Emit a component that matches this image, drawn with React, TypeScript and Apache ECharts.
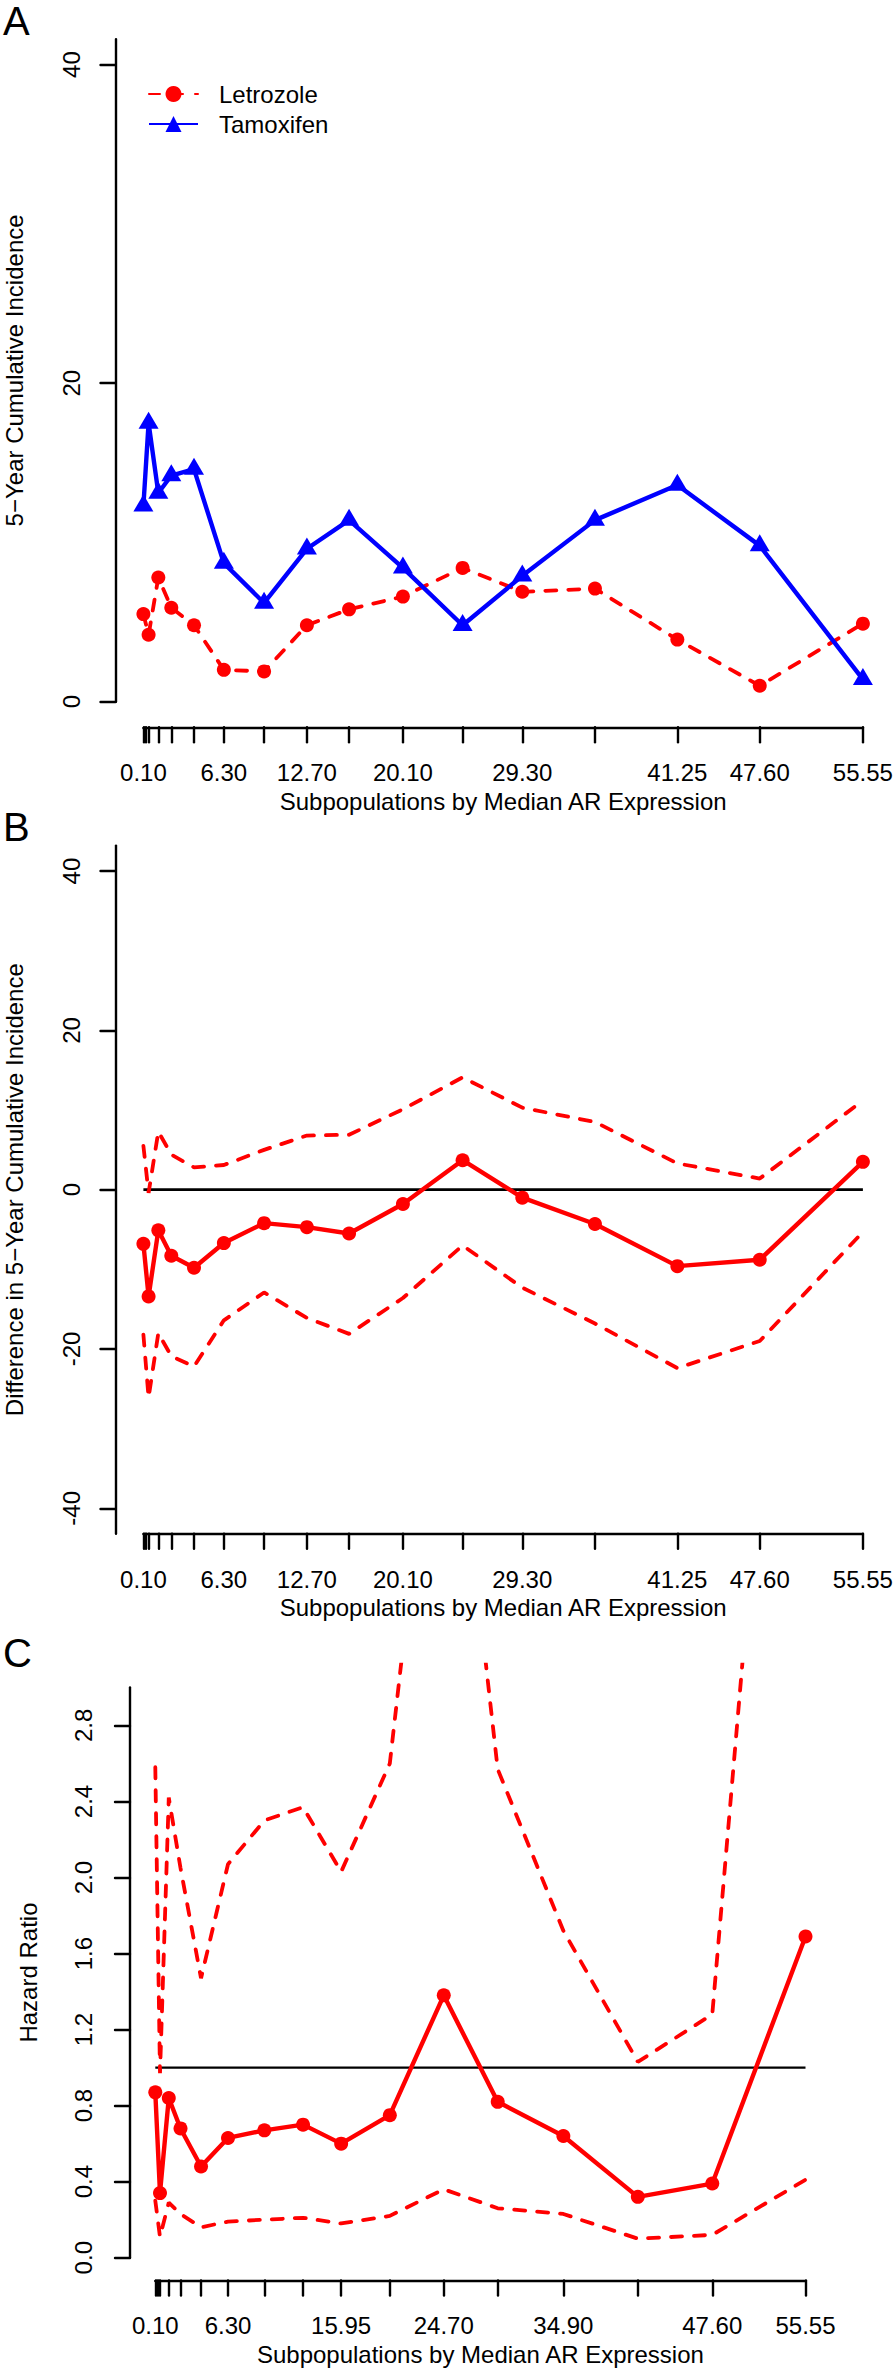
import React, { useEffect, useRef } from "react";
import * as echarts from "echarts";

// Subpopulation medians of AR expression (x positions of the points)
const medians = [0.1, 0.5, 1.25, 2.25, 4.0, 6.3, 9.4, 12.7, 15.95, 20.1, 24.7, 29.3, 34.9, 41.25, 47.6, 55.55];
// Tick marks drawn on the x axes
const subpopTicks = [0.1, 0.3, 0.5, 1.25, 2.25, 4.0, 6.3, 9.4, 12.7, 15.95, 20.1, 24.7, 29.3, 34.9, 41.25, 47.6, 55.55];
// Labelled ticks
const xLabelsAB = [0.1, 6.3, 12.7, 20.1, 29.3, 41.25, 47.6, 55.55];
const xLabelsC = [0.1, 6.3, 15.95, 24.7, 34.9, 47.6, 55.55];

// Panel A: 5-year cumulative incidence
const letrozole = [5.5, 4.2, 7.8, 5.9, 4.8, 2.0, 1.9, 4.8, 5.8, 6.6, 8.4, 6.9, 7.1, 3.9, 1.0, 4.9];
const tamoxifen = [12.3, 17.5, 13.1, 14.2, 14.6, 8.7, 6.2, 9.6, 11.4, 8.4, 4.8, 7.9, 11.4, 13.6, 9.8, 1.4];

// Panel B: difference in 5-year cumulative incidence
const diff = [-6.8, -13.4, -5.1, -8.3, -9.8, -6.7, -4.2, -4.7, -5.5, -1.8, 3.7, -1.0, -4.3, -9.6, -8.8, 3.5];
const diffUpper = [5.5, -0.4, 7.3, 4.4, 2.8, 3.1, 5.0, 6.8, 6.9, 10.1, 14.1, 10.3, 8.5, 3.3, 1.4, 11.2];
const diffLower = [-18.2, -26.1, -18.0, -20.9, -22.2, -16.4, -12.9, -16.1, -18.1, -13.6, -7.0, -12.3, -16.8, -22.4, -19.0, -5.3];

// Panel C: hazard ratio
const hazardRatio = [0.87, 0.34, 0.84, 0.68, 0.48, 0.63, 0.67, 0.7, 0.6, 0.75, 1.38, 0.82, 0.64, 0.32, 0.39, 1.69];
const hrUpper = [2.58, 0.97, 2.42, 2.05, 1.47, 2.07, 2.3, 2.37, 2.03, 2.6, 5.1, 2.57, 1.72, 1.03, 1.28, 7.0];
const hrLower = [0.3, 0.11, 0.29, 0.23, 0.16, 0.19, 0.2, 0.21, 0.18, 0.22, 0.36, 0.26, 0.23, 0.1, 0.12, 0.41];

// Reference lines
const diffReference = 0;
const hrReference = 1;

// Y ticks
const yTicksA = [0, 20, 40];
const yTicksB = [-40, -20, 0, 20, 40];
const yTicksC = [0, 0.4, 0.8, 1.2, 1.6, 2.0, 2.4, 2.8];

const FONT = "'Liberation Sans', Arial, Helvetica, sans-serif";
const RED = "#ff0000";
const BLUE = "#0000ff";
const BLACK = "#000000";
const DASH = [11, 12];
const DASH_W = 3.8;
const SOLID_W = 4.4;
const axisLS = { color: BLACK, width: 2.4, cap: "round" };

const pairs = (ys: number[]) => medians.map((x, i) => [x, ys[i]]);
const refPairs = (v: number) => [
  [medians[0], v],
  [medians[medians.length - 1], v],
];

function xAxisCfg(gridIndex: number, labels: number[], offset: number) {
  return {
    type: "value",
    gridIndex,
    min: 0.1,
    max: 55.55,
    position: "bottom",
    offset,
    name: "Subpopulations by Median AR Expression",
    nameLocation: "middle",
    nameGap: 73.7,
    nameMoveOverlap: false,
    nameTextStyle: { color: BLACK, fontSize: 24, fontFamily: FONT, verticalAlign: "middle", align: "center" },
    axisLine: { show: true, onZero: false, lineStyle: axisLS },
    axisTick: { show: true, length: 15, lineStyle: axisLS, customValues: subpopTicks },
    axisLabel: {
      show: true,
      customValues: labels,
      formatter: (v: number) => v.toFixed(2),
      margin: 45.3,
      color: BLACK,
      fontSize: 24,
      fontFamily: FONT,
      verticalAlign: "middle",
      align: "center",
    },
    splitLine: { show: false },
  };
}

function yAxisCfg(
  gridIndex: number,
  min: number,
  max: number,
  ticks: number[],
  name: string,
  offset: number,
  fmt: (v: number) => string,
  margin: number
) {
  return {
    type: "value",
    gridIndex,
    min,
    max,
    position: "left",
    offset,
    name,
    nameLocation: "middle",
    nameGap: 101.5,
    nameRotate: 90,
    nameMoveOverlap: false,
    nameTextStyle: { color: BLACK, fontSize: 24, fontFamily: FONT, verticalAlign: "middle", align: "center" },
    axisLine: { show: true, onZero: false, lineStyle: axisLS },
    axisTick: { show: true, length: 15, lineStyle: axisLS, customValues: ticks },
    axisLabel: {
      show: true,
      customValues: ticks,
      rotate: 90,
      margin,
      formatter: fmt,
      color: BLACK,
      fontSize: 24,
      fontFamily: FONT,
      align: "center",
      verticalAlign: "middle",
    },
    splitLine: { show: false },
  };
}

const hiddenAxis = (gridIndex: number, min: number, max: number) => ({
  type: "value",
  gridIndex,
  min,
  max,
  show: false,
  axisLine: { onZero: false },
  splitLine: { show: false },
});

const letter = (t: string, y: number) => ({
  type: "text",
  x: 3,
  y,
  silent: true,
  style: {
    text: t,
    fontSize: 40,
    fontFamily: FONT,
    fill: BLACK,
    align: "left",
    textAlign: "left",
    verticalAlign: "middle",
    textVerticalAlign: "middle",
  },
});

const gridBase = { containLabel: false, outerBoundsMode: "none" };

const option: any = {
  animation: false,
  backgroundColor: "#ffffff",
  grid: [
    { ...gridBase, left: 143.4, top: 39.1, width: 719.5, height: 662.6 },
    { ...gridBase, left: 143.4, top: 845.6, width: 719.5, height: 688.2 },
    { ...gridBase, left: 155.3, top: 1664.6, width: 650.2, height: 593.1 },
    { ...gridBase, left: 155.3, top: 1687.4, width: 650.2, height: 570.3 },
  ],
  xAxis: [
    xAxisCfg(0, xLabelsAB, 25.6),
    xAxisCfg(1, xLabelsAB, 0),
    xAxisCfg(2, xLabelsC, 22.8),
    hiddenAxis(3, 0.1, 55.55),
  ],
  yAxis: [
    yAxisCfg(0, 0, 41.6, yTicksA, "5−Year Cumulative Incidence", 27.9, (v) => String(v), 44.5),
    yAxisCfg(1, -43.2, 43.2, yTicksB, "Difference in 5−Year Cumulative Incidence", 27.9, (v) => String(v), 44.5),
    hiddenAxis(2, 0, 3.12),
    yAxisCfg(3, 0, 3.0, yTicksC, "Hazard Ratio", 25.3, (v) => v.toFixed(1), 47),
  ],
  legend: {
    left: 148,
    top: 82,
    padding: 0,
    orient: "vertical",
    itemWidth: 49,
    itemHeight: 20,
    itemGap: 6,
    selectedMode: false,
    data: ["Letrozole", "Tamoxifen"],
    textStyle: { color: BLACK, fontSize: 24, fontFamily: FONT, padding: [0, 0, 0, 16] },
  },
  graphic: [letter("A", 20.5), letter("B", 826.6), letter("C", 1653)],
  series: [
    {
      name: "Letrozole",
      type: "line",
      xAxisIndex: 0,
      yAxisIndex: 0,
      data: pairs(letrozole),
      symbol: "circle",
      symbolSize: 14,
      clip: false,
      silent: true,
      itemStyle: { color: RED },
      lineStyle: { color: RED, width: DASH_W, type: DASH, cap: "round" },
    },
    {
      name: "Tamoxifen",
      type: "line",
      xAxisIndex: 0,
      yAxisIndex: 0,
      data: pairs(tamoxifen),
      symbol: "triangle",
      symbolSize: [20, 17],
      symbolOffset: [0, -2.8],
      clip: false,
      silent: true,
      itemStyle: { color: BLUE },
      lineStyle: { color: BLUE, width: SOLID_W },
    },
    {
      name: "diffRef",
      type: "line",
      xAxisIndex: 1,
      yAxisIndex: 1,
      data: refPairs(diffReference),
      symbol: "none",
      clip: false,
      silent: true,
      lineStyle: { color: BLACK, width: 2.8 },
    },
    {
      name: "diffUpper",
      type: "line",
      xAxisIndex: 1,
      yAxisIndex: 1,
      data: pairs(diffUpper),
      symbol: "none",
      clip: false,
      silent: true,
      lineStyle: { color: RED, width: DASH_W, type: DASH, cap: "round" },
    },
    {
      name: "diffLower",
      type: "line",
      xAxisIndex: 1,
      yAxisIndex: 1,
      data: pairs(diffLower),
      symbol: "none",
      clip: false,
      silent: true,
      lineStyle: { color: RED, width: DASH_W, type: DASH, cap: "round" },
    },
    {
      name: "diff",
      type: "line",
      xAxisIndex: 1,
      yAxisIndex: 1,
      data: pairs(diff),
      symbol: "circle",
      symbolSize: 14,
      clip: false,
      silent: true,
      itemStyle: { color: RED },
      lineStyle: { color: RED, width: SOLID_W },
    },
    {
      name: "hrRef",
      type: "line",
      xAxisIndex: 2,
      yAxisIndex: 2,
      data: refPairs(hrReference),
      symbol: "none",
      silent: true,
      lineStyle: { color: BLACK, width: 2.3 },
    },
    {
      name: "hrUpper",
      type: "line",
      xAxisIndex: 2,
      yAxisIndex: 2,
      data: pairs(hrUpper),
      symbol: "none",
      clip: true,
      silent: true,
      lineStyle: { color: RED, width: DASH_W, type: DASH, cap: "round" },
    },
    {
      name: "hrLower",
      type: "line",
      xAxisIndex: 2,
      yAxisIndex: 2,
      data: pairs(hrLower),
      symbol: "none",
      clip: true,
      silent: true,
      lineStyle: { color: RED, width: DASH_W, type: DASH, cap: "round" },
    },
    {
      name: "hr",
      type: "line",
      xAxisIndex: 2,
      yAxisIndex: 2,
      data: pairs(hazardRatio),
      symbol: "circle",
      symbolSize: 14,
      clip: false,
      silent: true,
      itemStyle: { color: RED },
      lineStyle: { color: RED, width: SOLID_W },
    },
  ],
};

export default function App() {
  const ref = useRef<HTMLDivElement>(null);
  useEffect(() => {
    const chart = echarts.init(ref.current as HTMLDivElement, null, { renderer: "svg" });
    chart.setOption(option);
    return () => chart.dispose();
  }, []);
  return (
    <div
      ref={ref}
      style={{ position: "absolute", left: 0, top: 0, width: 896, height: 2372, background: "#fff" }}
    />
  );
}
